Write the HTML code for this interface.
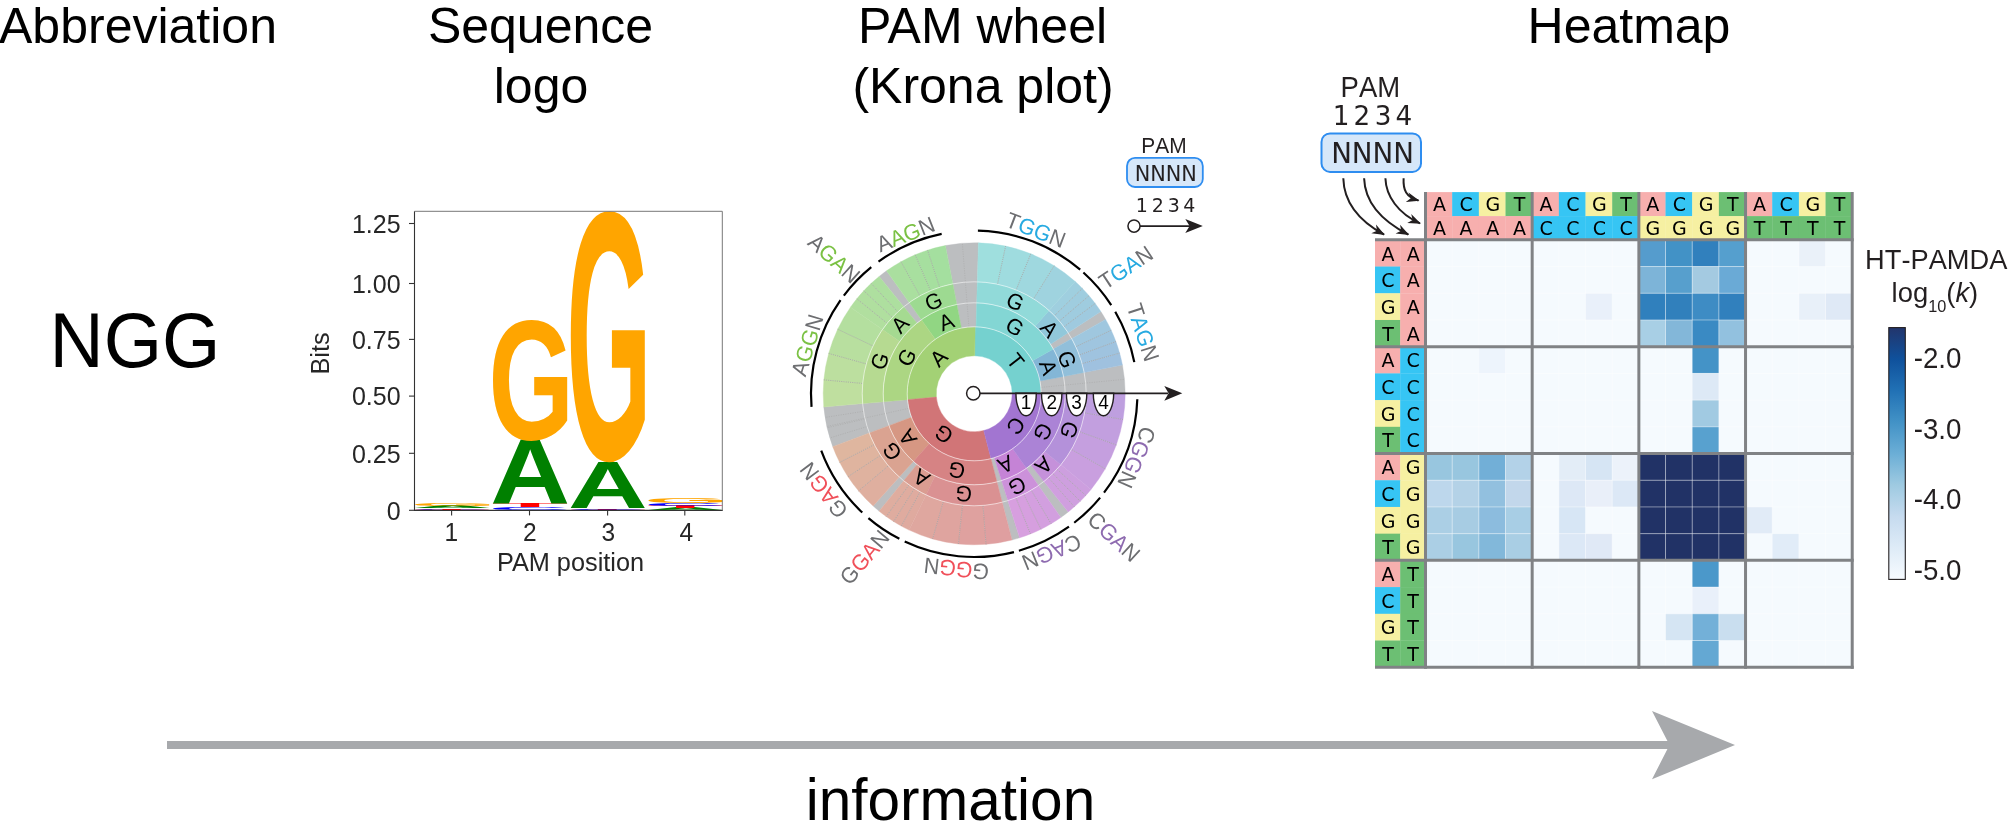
<!DOCTYPE html>
<html><head><meta charset="utf-8"><title>PAM representations</title>
<style>html,body{margin:0;padding:0;background:#fff;overflow:hidden}svg{display:block;will-change:transform}text{white-space:pre}</style></head>
<body><svg width="2008" height="839" viewBox="0 0 2008 839">
<text x="138.00" y="43.20" font-size="50" text-anchor="middle" fill="#000" font-family='"Liberation Sans", Arial, Helvetica, sans-serif' >Abbreviation</text>
<text x="540.50" y="43.20" font-size="50" text-anchor="middle" fill="#000" font-family='"Liberation Sans", Arial, Helvetica, sans-serif' >Sequence</text>
<text x="541.00" y="103.20" font-size="50" text-anchor="middle" fill="#000" font-family='"Liberation Sans", Arial, Helvetica, sans-serif' >logo</text>
<text x="982.50" y="43.20" font-size="50" text-anchor="middle" fill="#000" font-family='"Liberation Sans", Arial, Helvetica, sans-serif' >PAM wheel</text>
<text x="983.00" y="103.20" font-size="50" text-anchor="middle" fill="#000" font-family='"Liberation Sans", Arial, Helvetica, sans-serif' >(Krona plot)</text>
<text x="1629.00" y="43.20" font-size="50" text-anchor="middle" fill="#000" font-family='"Liberation Sans", Arial, Helvetica, sans-serif' >Heatmap</text>
<text transform="translate(135.00,367.00) scale(1,1.04)" x="0" y="0" font-size="75" text-anchor="middle" fill="#000" font-family='"Liberation Sans", Arial, Helvetica, sans-serif' >NGG</text>
<text x="950.50" y="820.20" font-size="58.5" text-anchor="middle" fill="#000" font-family='"Liberation Sans", Arial, Helvetica, sans-serif' >information</text>
<rect x="167" y="741" width="1510" height="8" fill="#a7a9ac"/>
<polygon points="1652,711 1735,745 1652,779.3 1669.5,745" fill="#a7a9ac"/>
<text transform="translate(410.239,510.289) scale(1.13642,0.01130)" x="0" y="0" font-size="100" font-weight="bold" fill="#0000ff" font-family='"Liberation Sans", Arial, Helvetica, sans-serif'>C</text>
<text transform="translate(413.483,509.500) scale(1.26174,0.02180)" x="0" y="0" font-size="100" font-weight="bold" fill="#ff0000" font-family='"Liberation Sans", Arial, Helvetica, sans-serif'>T</text>
<text transform="translate(412.142,508.000) scale(1.10747,0.03198)" x="0" y="0" font-size="100" font-weight="bold" fill="#008000" font-family='"Liberation Sans", Arial, Helvetica, sans-serif'>A</text>
<text transform="translate(410.384,505.761) scale(1.10106,0.03955)" x="0" y="0" font-size="100" font-weight="bold" fill="#ffa500" font-family='"Liberation Sans", Arial, Helvetica, sans-serif'>G</text>
<text transform="translate(488.245,510.259) scale(1.13489,0.04237)" x="0" y="0" font-size="100" font-weight="bold" fill="#0000ff" font-family='"Liberation Sans", Arial, Helvetica, sans-serif'>C</text>
<text transform="translate(491.485,507.300) scale(1.26005,0.05669)" x="0" y="0" font-size="100" font-weight="bold" fill="#ff0000" font-family='"Liberation Sans", Arial, Helvetica, sans-serif'>T</text>
<text transform="translate(490.146,503.400) scale(1.10598,0.91862)" x="0" y="0" font-size="100" font-weight="bold" fill="#008000" font-family='"Liberation Sans", Arial, Helvetica, sans-serif'>A</text>
<text transform="translate(488.390,438.534) scale(1.09958,1.70620)" x="0" y="0" font-size="100" font-weight="bold" fill="#ffa500" font-family='"Liberation Sans", Arial, Helvetica, sans-serif'>G</text>
<text transform="translate(569.389,510.300) scale(1.25665,0.01017)" x="0" y="0" font-size="100" font-weight="bold" fill="#ff0000" font-family='"Liberation Sans", Arial, Helvetica, sans-serif'>T</text>
<text transform="translate(566.158,509.578) scale(1.13183,0.02260)" x="0" y="0" font-size="100" font-weight="bold" fill="#0000ff" font-family='"Liberation Sans", Arial, Helvetica, sans-serif'>C</text>
<text transform="translate(568.053,508.000) scale(1.10300,0.66571)" x="0" y="0" font-size="100" font-weight="bold" fill="#008000" font-family='"Liberation Sans", Arial, Helvetica, sans-serif'>A</text>
<text transform="translate(566.302,458.738) scale(1.09661,3.54516)" x="0" y="0" font-size="100" font-weight="bold" fill="#ffa500" font-family='"Liberation Sans", Arial, Helvetica, sans-serif'>G</text>
<text transform="translate(645.657,510.300) scale(1.10151,0.03052)" x="0" y="0" font-size="100" font-weight="bold" fill="#008000" font-family='"Liberation Sans", Arial, Helvetica, sans-serif'>A</text>
<text transform="translate(646.991,508.200) scale(1.25495,0.03634)" x="0" y="0" font-size="100" font-weight="bold" fill="#ff0000" font-family='"Liberation Sans", Arial, Helvetica, sans-serif'>T</text>
<text transform="translate(643.764,505.667) scale(1.13030,0.03390)" x="0" y="0" font-size="100" font-weight="bold" fill="#0000ff" font-family='"Liberation Sans", Arial, Helvetica, sans-serif'>C</text>
<text transform="translate(643.908,503.235) scale(1.09513,0.06638)" x="0" y="0" font-size="100" font-weight="bold" fill="#ffa500" font-family='"Liberation Sans", Arial, Helvetica, sans-serif'>G</text>
<line x1="414.5" y1="211.3" x2="414.5" y2="510.9" stroke="#333" stroke-width="1.1"/>
<line x1="414.0" y1="510.4" x2="722.8" y2="510.4" stroke="#333" stroke-width="1.1"/>
<line x1="414.5" y1="211.3" x2="722.3" y2="211.3" stroke="#777" stroke-width="1"/>
<line x1="722.3" y1="211.3" x2="722.3" y2="510.4" stroke="#777" stroke-width="1"/>
<line x1="409.0" y1="223.5" x2="414.5" y2="223.5" stroke="#333" stroke-width="1.1"/>
<text transform="translate(400.60,232.80) scale(1,1.04)" x="0" y="0" font-size="25" text-anchor="end" fill="#262626" font-family='"Liberation Sans", Arial, Helvetica, sans-serif' >1.25</text>
<line x1="409.0" y1="283.5" x2="414.5" y2="283.5" stroke="#333" stroke-width="1.1"/>
<text transform="translate(400.60,292.80) scale(1,1.04)" x="0" y="0" font-size="25" text-anchor="end" fill="#262626" font-family='"Liberation Sans", Arial, Helvetica, sans-serif' >1.00</text>
<line x1="409.0" y1="339.4" x2="414.5" y2="339.4" stroke="#333" stroke-width="1.1"/>
<text transform="translate(400.60,348.70) scale(1,1.04)" x="0" y="0" font-size="25" text-anchor="end" fill="#262626" font-family='"Liberation Sans", Arial, Helvetica, sans-serif' >0.75</text>
<line x1="409.0" y1="396.1" x2="414.5" y2="396.1" stroke="#333" stroke-width="1.1"/>
<text transform="translate(400.60,405.40) scale(1,1.04)" x="0" y="0" font-size="25" text-anchor="end" fill="#262626" font-family='"Liberation Sans", Arial, Helvetica, sans-serif' >0.50</text>
<line x1="409.0" y1="453.3" x2="414.5" y2="453.3" stroke="#333" stroke-width="1.1"/>
<text transform="translate(400.60,462.60) scale(1,1.04)" x="0" y="0" font-size="25" text-anchor="end" fill="#262626" font-family='"Liberation Sans", Arial, Helvetica, sans-serif' >0.25</text>
<line x1="409.0" y1="510.3" x2="414.5" y2="510.3" stroke="#333" stroke-width="1.1"/>
<text transform="translate(400.60,519.60) scale(1,1.04)" x="0" y="0" font-size="25" text-anchor="end" fill="#262626" font-family='"Liberation Sans", Arial, Helvetica, sans-serif' >0</text>
<line x1="451.6" y1="510.4" x2="451.6" y2="515.4" stroke="#333" stroke-width="1.1"/>
<text transform="translate(451.40,540.70) scale(1,1.04)" x="0" y="0" font-size="24.5" text-anchor="middle" fill="#262626" font-family='"Liberation Sans", Arial, Helvetica, sans-serif' >1</text>
<line x1="529.5" y1="510.4" x2="529.5" y2="515.4" stroke="#333" stroke-width="1.1"/>
<text transform="translate(529.90,540.70) scale(1,1.04)" x="0" y="0" font-size="24.5" text-anchor="middle" fill="#262626" font-family='"Liberation Sans", Arial, Helvetica, sans-serif' >2</text>
<line x1="607.6" y1="510.4" x2="607.6" y2="515.4" stroke="#333" stroke-width="1.1"/>
<text transform="translate(608.30,540.70) scale(1,1.04)" x="0" y="0" font-size="24.5" text-anchor="middle" fill="#262626" font-family='"Liberation Sans", Arial, Helvetica, sans-serif' >3</text>
<line x1="684.8" y1="510.4" x2="684.8" y2="515.4" stroke="#333" stroke-width="1.1"/>
<text transform="translate(686.40,540.70) scale(1,1.04)" x="0" y="0" font-size="24.5" text-anchor="middle" fill="#262626" font-family='"Liberation Sans", Arial, Helvetica, sans-serif' >4</text>
<text x="570.50" y="571.00" font-size="25.3" text-anchor="middle" fill="#262626" font-family='"Liberation Sans", Arial, Helvetica, sans-serif' >PAM position</text>
<text transform="translate(329.3,353.5) rotate(-90)" font-size="25.3" text-anchor="middle" fill="#262626" font-family='"Liberation Sans", Arial, Helvetica, sans-serif'>Bits</text>
<path d="M1041.20,393.80 A67,67 0 0 0 975.14,326.81 L974.73,355.80 A38,38 0 0 1 1012.20,393.80 Z" fill="#75d1cf" stroke="#75d1cf" stroke-width="0.4"/>
<path d="M975.14,326.81 A67,67 0 0 0 907.45,399.64 L936.34,397.11 A38,38 0 0 1 974.73,355.80 Z" fill="#a3d175" stroke="#a3d175" stroke-width="0.4"/>
<path d="M907.45,399.64 A67,67 0 0 0 990.98,458.67 L983.71,430.59 A38,38 0 0 1 936.34,397.11 Z" fill="#d17577" stroke="#d17577" stroke-width="0.4"/>
<path d="M990.98,458.67 A67,67 0 0 0 1041.20,393.80 L1012.20,393.80 A38,38 0 0 1 983.71,430.59 Z" fill="#a275d1" stroke="#a275d1" stroke-width="0.4"/>
<path d="M1125.20,393.80 A151,151 0 0 0 1122.43,364.99 L1039.97,381.02 A67,67 0 0 1 1041.20,393.80 Z" fill="#bcbec0" stroke="#bcbec0" stroke-width="0.4"/>
<path d="M978.42,242.86 A151,151 0 0 0 945.39,245.57 L961.42,328.03 A67,67 0 0 1 976.07,326.83 Z" fill="#bcbec0" stroke="#bcbec0" stroke-width="0.4"/>
<path d="M823.77,406.96 A151,151 0 0 0 832.76,446.68 L911.44,417.26 A67,67 0 0 1 907.45,399.64 Z" fill="#bcbec0" stroke="#bcbec0" stroke-width="0.4"/>
<path d="M1012.01,539.99 A151,151 0 0 0 1019.61,537.81 L994.35,457.70 A67,67 0 0 1 990.98,458.67 Z" fill="#bcbec0" stroke="#bcbec0" stroke-width="0.4"/>
<path d="M1063.53,376.44 A91,91 0 0 0 1053.40,348.99 L1032.51,360.81 A67,67 0 0 1 1039.97,381.02 Z" fill="#83b6d6" stroke="#83b6d6" stroke-width="0.4"/>
<path d="M1053.40,348.99 A91,91 0 0 0 976.74,302.84 L976.07,326.83 A67,67 0 0 1 1032.51,360.81 Z" fill="#83d6d4" stroke="#83d6d4" stroke-width="0.4"/>
<path d="M956.84,304.47 A91,91 0 0 0 921.36,319.72 L935.29,339.25 A67,67 0 0 1 961.42,328.03 Z" fill="#91d683" stroke="#91d683" stroke-width="0.4"/>
<path d="M921.36,319.72 A91,91 0 0 0 883.55,401.73 L907.45,399.64 A67,67 0 0 1 935.29,339.25 Z" fill="#acd683" stroke="#acd683" stroke-width="0.4"/>
<path d="M888.96,425.67 A91,91 0 0 0 913.31,461.43 L929.37,443.59 A67,67 0 0 1 911.44,417.26 Z" fill="#d69783" stroke="#d69783" stroke-width="0.4"/>
<path d="M913.31,461.43 A91,91 0 0 0 996.98,481.90 L990.98,458.67 A67,67 0 0 1 929.37,443.59 Z" fill="#d68384" stroke="#d68384" stroke-width="0.4"/>
<path d="M1001.56,480.59 A91,91 0 0 0 1026.40,468.34 L1012.63,448.68 A67,67 0 0 1 994.35,457.70 Z" fill="#c583d6" stroke="#c583d6" stroke-width="0.4"/>
<path d="M1026.40,468.34 A91,91 0 0 0 1065.20,393.80 L1041.20,393.80 A67,67 0 0 1 1012.63,448.68 Z" fill="#ab83d6" stroke="#ab83d6" stroke-width="0.4"/>
<path d="M1105.62,319.44 A151,151 0 0 0 1100.84,311.56 L1050.52,344.24 A91,91 0 0 1 1053.40,348.99 Z" fill="#bcbec0" stroke="#bcbec0" stroke-width="0.4"/>
<path d="M886.51,270.87 A151,151 0 0 0 879.17,276.45 L916.93,323.08 A91,91 0 0 1 921.36,319.72 Z" fill="#bcbec0" stroke="#bcbec0" stroke-width="0.4"/>
<path d="M873.16,506.01 A151,151 0 0 0 879.17,511.15 L916.93,464.52 A91,91 0 0 1 913.31,461.43 Z" fill="#bcbec0" stroke="#bcbec0" stroke-width="0.4"/>
<path d="M1060.81,517.49 A151,151 0 0 0 1068.20,511.97 L1030.85,465.02 A91,91 0 0 1 1026.40,468.34 Z" fill="#bcbec0" stroke="#bcbec0" stroke-width="0.4"/>
<path d="M1084.14,372.43 A112,112 0 0 0 1071.68,338.65 L1053.40,348.99 A91,91 0 0 1 1063.53,376.44 Z" fill="#91bfda" stroke="#91bfda" stroke-width="0.4"/>
<path d="M1122.43,364.99 A151,151 0 0 0 1119.62,353.13 L1082.06,363.63 A112,112 0 0 1 1084.14,372.43 Z" fill="#9fc1df" stroke="#9fc1df" stroke-width="0.4"/>
<path d="M1119.62,353.13 A151,151 0 0 0 1115.87,341.54 L1079.28,355.03 A112,112 0 0 1 1082.06,363.63 Z" fill="#9fc3df" stroke="#9fc3df" stroke-width="0.4"/>
<path d="M1115.87,341.54 A151,151 0 0 0 1111.19,330.28 L1075.81,346.69 A112,112 0 0 1 1079.28,355.03 Z" fill="#9fc5df" stroke="#9fc5df" stroke-width="0.4"/>
<path d="M1111.19,330.28 A151,151 0 0 0 1105.62,319.44 L1071.68,338.65 A112,112 0 0 1 1075.81,346.69 Z" fill="#9fc7df" stroke="#9fc7df" stroke-width="0.4"/>
<path d="M1068.13,332.80 A112,112 0 0 0 1049.14,310.57 L1035.09,326.17 A91,91 0 0 1 1050.52,344.24 Z" fill="#91c8da" stroke="#91c8da" stroke-width="0.4"/>
<path d="M1100.84,311.56 A151,151 0 0 0 1095.19,303.45 L1063.94,326.79 A112,112 0 0 1 1068.13,332.80 Z" fill="#9fcadf" stroke="#9fcadf" stroke-width="0.4"/>
<path d="M1095.19,303.45 A151,151 0 0 0 1089.02,295.73 L1059.37,321.06 A112,112 0 0 1 1063.94,326.79 Z" fill="#9fccdf" stroke="#9fccdf" stroke-width="0.4"/>
<path d="M1089.02,295.73 A151,151 0 0 0 1082.36,288.43 L1054.43,315.65 A112,112 0 0 1 1059.37,321.06 Z" fill="#9fcddf" stroke="#9fcddf" stroke-width="0.4"/>
<path d="M1082.36,288.43 A151,151 0 0 0 1075.24,281.59 L1049.14,310.57 A112,112 0 0 1 1054.43,315.65 Z" fill="#9fcfdf" stroke="#9fcfdf" stroke-width="0.4"/>
<path d="M1049.14,310.57 A112,112 0 0 0 977.33,281.84 L976.74,302.84 A91,91 0 0 1 1035.09,326.17 Z" fill="#91dad9" stroke="#91dad9" stroke-width="0.4"/>
<path d="M1075.24,281.59 A151,151 0 0 0 1054.22,265.74 L1033.55,298.82 A112,112 0 0 1 1049.14,310.57 Z" fill="#9fd3df" stroke="#9fd3df" stroke-width="0.4"/>
<path d="M1054.22,265.74 A151,151 0 0 0 1030.77,253.80 L1016.16,289.96 A112,112 0 0 1 1033.55,298.82 Z" fill="#9fd8df" stroke="#9fd8df" stroke-width="0.4"/>
<path d="M1030.77,253.80 A151,151 0 0 0 1005.59,246.10 L997.49,284.25 A112,112 0 0 1 1016.16,289.96 Z" fill="#9fdcdf" stroke="#9fdcdf" stroke-width="0.4"/>
<path d="M1005.59,246.10 A151,151 0 0 0 978.42,242.86 L977.33,281.84 A112,112 0 0 1 997.49,284.25 Z" fill="#9fdfde" stroke="#9fdfde" stroke-width="0.4"/>
<path d="M952.83,283.86 A112,112 0 0 0 909.16,302.62 L921.36,319.72 A91,91 0 0 1 956.84,304.47 Z" fill="#9dda91" stroke="#9dda91" stroke-width="0.4"/>
<path d="M945.39,245.57 A151,151 0 0 0 927.54,250.19 L939.59,287.28 A112,112 0 0 1 952.83,283.86 Z" fill="#a4df9f" stroke="#a4df9f" stroke-width="0.4"/>
<path d="M927.54,250.19 A151,151 0 0 0 915.20,254.80 L930.44,290.70 A112,112 0 0 1 939.59,287.28 Z" fill="#a6df9f" stroke="#a6df9f" stroke-width="0.4"/>
<path d="M915.20,254.80 A151,151 0 0 0 900.99,261.73 L919.90,295.84 A112,112 0 0 1 930.44,290.70 Z" fill="#a8df9f" stroke="#a8df9f" stroke-width="0.4"/>
<path d="M900.99,261.73 A151,151 0 0 0 886.51,270.87 L909.16,302.62 A112,112 0 0 1 919.90,295.84 Z" fill="#aadf9f" stroke="#aadf9f" stroke-width="0.4"/>
<path d="M903.72,306.76 A112,112 0 0 0 882.45,329.56 L899.66,341.60 A91,91 0 0 1 916.93,323.08 Z" fill="#a5da91" stroke="#a5da91" stroke-width="0.4"/>
<path d="M879.17,276.45 A151,151 0 0 0 871.22,283.37 L897.82,311.89 A112,112 0 0 1 903.72,306.76 Z" fill="#addf9f" stroke="#addf9f" stroke-width="0.4"/>
<path d="M871.22,283.37 A151,151 0 0 0 863.77,290.82 L892.29,317.42 A112,112 0 0 1 897.82,311.89 Z" fill="#aedf9f" stroke="#aedf9f" stroke-width="0.4"/>
<path d="M863.77,290.82 A151,151 0 0 0 856.85,298.77 L887.16,323.32 A112,112 0 0 1 892.29,317.42 Z" fill="#b0df9f" stroke="#b0df9f" stroke-width="0.4"/>
<path d="M856.85,298.77 A151,151 0 0 0 850.51,307.19 L882.45,329.56 A112,112 0 0 1 887.16,323.32 Z" fill="#b1df9f" stroke="#b1df9f" stroke-width="0.4"/>
<path d="M882.45,329.56 A112,112 0 0 0 862.63,403.56 L883.55,401.73 A91,91 0 0 1 899.66,341.60 Z" fill="#b6da91" stroke="#b6da91" stroke-width="0.4"/>
<path d="M850.51,307.19 A151,151 0 0 0 837.68,329.27 L872.94,345.94 A112,112 0 0 1 882.45,329.56 Z" fill="#b4df9f" stroke="#b4df9f" stroke-width="0.4"/>
<path d="M837.68,329.27 A151,151 0 0 0 828.69,353.45 L866.27,363.87 A112,112 0 0 1 872.94,345.94 Z" fill="#b8df9f" stroke="#b8df9f" stroke-width="0.4"/>
<path d="M828.69,353.45 A151,151 0 0 0 823.85,379.85 L862.68,383.45 A112,112 0 0 1 866.27,363.87 Z" fill="#bcdf9f" stroke="#bcdf9f" stroke-width="0.4"/>
<path d="M823.85,379.85 A151,151 0 0 0 823.77,406.96 L862.63,403.56 A112,112 0 0 1 862.68,383.45 Z" fill="#bfdf9f" stroke="#bfdf9f" stroke-width="0.4"/>
<path d="M869.29,433.02 A112,112 0 0 0 899.26,477.03 L913.31,461.43 A91,91 0 0 1 888.96,425.67 Z" fill="#daa391" stroke="#daa391" stroke-width="0.4"/>
<path d="M832.76,446.68 A151,151 0 0 0 839.66,462.35 L874.41,444.65 A112,112 0 0 1 869.29,433.02 Z" fill="#dfb69f" stroke="#dfb69f" stroke-width="0.4"/>
<path d="M839.66,462.35 A151,151 0 0 0 847.99,476.70 L880.59,455.29 A112,112 0 0 1 874.41,444.65 Z" fill="#dfb49f" stroke="#dfb49f" stroke-width="0.4"/>
<path d="M847.99,476.70 A151,151 0 0 0 858.53,490.86 L888.40,465.79 A112,112 0 0 1 880.59,455.29 Z" fill="#dfb29f" stroke="#dfb29f" stroke-width="0.4"/>
<path d="M858.53,490.86 A151,151 0 0 0 873.16,506.01 L899.26,477.03 A112,112 0 0 1 888.40,465.79 Z" fill="#dfaf9f" stroke="#dfaf9f" stroke-width="0.4"/>
<path d="M903.72,480.84 A112,112 0 0 0 925.98,494.89 L935.02,475.94 A91,91 0 0 1 916.93,464.52 Z" fill="#da9d91" stroke="#da9d91" stroke-width="0.4"/>
<path d="M879.17,511.15 A151,151 0 0 0 886.25,516.54 L908.96,484.84 A112,112 0 0 1 903.72,480.84 Z" fill="#dfad9f" stroke="#dfad9f" stroke-width="0.4"/>
<path d="M886.25,516.54 A151,151 0 0 0 893.62,521.50 L914.44,488.52 A112,112 0 0 1 908.96,484.84 Z" fill="#dfac9f" stroke="#dfac9f" stroke-width="0.4"/>
<path d="M893.62,521.50 A151,151 0 0 0 901.28,526.03 L920.12,491.88 A112,112 0 0 1 914.44,488.52 Z" fill="#dfab9f" stroke="#dfab9f" stroke-width="0.4"/>
<path d="M901.28,526.03 A151,151 0 0 0 909.19,530.09 L925.98,494.89 A112,112 0 0 1 920.12,491.88 Z" fill="#dfaa9f" stroke="#dfaa9f" stroke-width="0.4"/>
<path d="M925.98,494.89 A112,112 0 0 0 1002.24,502.23 L996.98,481.90 A91,91 0 0 1 935.02,475.94 Z" fill="#da9192" stroke="#da9192" stroke-width="0.4"/>
<path d="M909.19,530.09 A151,151 0 0 0 932.58,538.95 L943.33,501.46 A112,112 0 0 1 925.98,494.89 Z" fill="#dfa79f" stroke="#dfa79f" stroke-width="0.4"/>
<path d="M932.58,538.95 A151,151 0 0 0 958.42,543.97 L962.49,505.19 A112,112 0 0 1 943.33,501.46 Z" fill="#dfa49f" stroke="#dfa49f" stroke-width="0.4"/>
<path d="M958.42,543.97 A151,151 0 0 0 986.05,544.33 L982.99,505.45 A112,112 0 0 1 962.49,505.19 Z" fill="#dfa19f" stroke="#dfa19f" stroke-width="0.4"/>
<path d="M986.05,544.33 A151,151 0 0 0 1012.01,539.99 L1002.24,502.23 A112,112 0 0 1 982.99,505.45 Z" fill="#df9fa0" stroke="#df9fa0" stroke-width="0.4"/>
<path d="M1007.88,500.62 A112,112 0 0 0 1038.44,485.55 L1026.40,468.34 A91,91 0 0 1 1001.56,480.59 Z" fill="#cc91da" stroke="#cc91da" stroke-width="0.4"/>
<path d="M1019.61,537.81 A151,151 0 0 0 1030.46,533.93 L1015.93,497.74 A112,112 0 0 1 1007.88,500.62 Z" fill="#d79fdf" stroke="#d79fdf" stroke-width="0.4"/>
<path d="M1030.46,533.93 A151,151 0 0 0 1040.99,529.23 L1023.74,494.25 A112,112 0 0 1 1015.93,497.74 Z" fill="#d69fdf" stroke="#d69fdf" stroke-width="0.4"/>
<path d="M1040.99,529.23 A151,151 0 0 0 1051.12,523.74 L1031.25,490.18 A112,112 0 0 1 1023.74,494.25 Z" fill="#d49fdf" stroke="#d49fdf" stroke-width="0.4"/>
<path d="M1051.12,523.74 A151,151 0 0 0 1060.81,517.49 L1038.44,485.55 A112,112 0 0 1 1031.25,490.18 Z" fill="#d29fdf" stroke="#d29fdf" stroke-width="0.4"/>
<path d="M1043.92,481.45 A112,112 0 0 0 1060.87,464.74 L1044.62,451.44 A91,91 0 0 1 1030.85,465.02 Z" fill="#c591da" stroke="#c591da" stroke-width="0.4"/>
<path d="M1068.20,511.97 A151,151 0 0 0 1074.35,506.80 L1048.49,477.62 A112,112 0 0 1 1043.92,481.45 Z" fill="#d09fdf" stroke="#d09fdf" stroke-width="0.4"/>
<path d="M1074.35,506.80 A151,151 0 0 0 1080.23,501.32 L1052.84,473.55 A112,112 0 0 1 1048.49,477.62 Z" fill="#cf9fdf" stroke="#cf9fdf" stroke-width="0.4"/>
<path d="M1080.23,501.32 A151,151 0 0 0 1085.80,495.52 L1056.97,469.25 A112,112 0 0 1 1052.84,473.55 Z" fill="#ce9fdf" stroke="#ce9fdf" stroke-width="0.4"/>
<path d="M1085.80,495.52 A151,151 0 0 0 1091.05,489.44 L1060.87,464.74 A112,112 0 0 1 1056.97,469.25 Z" fill="#cd9fdf" stroke="#cd9fdf" stroke-width="0.4"/>
<path d="M1060.87,464.74 A112,112 0 0 0 1086.20,393.80 L1065.20,393.80 A91,91 0 0 1 1044.62,451.44 Z" fill="#b491da" stroke="#b491da" stroke-width="0.4"/>
<path d="M1091.05,489.44 A151,151 0 0 0 1105.23,468.84 L1071.39,449.46 A112,112 0 0 1 1060.87,464.74 Z" fill="#c99fdf" stroke="#c99fdf" stroke-width="0.4"/>
<path d="M1105.23,468.84 A151,151 0 0 0 1116.27,444.95 L1079.58,431.74 A112,112 0 0 1 1071.39,449.46 Z" fill="#c59fdf" stroke="#c59fdf" stroke-width="0.4"/>
<path d="M1116.27,444.95 A151,151 0 0 0 1123.00,419.50 L1084.57,412.86 A112,112 0 0 1 1079.58,431.74 Z" fill="#c29fdf" stroke="#c29fdf" stroke-width="0.4"/>
<path d="M1123.00,419.50 A151,151 0 0 0 1125.20,393.80 L1086.20,393.80 A112,112 0 0 1 1084.57,412.86 Z" fill="#be9fdf" stroke="#be9fdf" stroke-width="0.4"/>
<line x1="1082.54" y1="363.50" x2="1119.62" y2="353.13" stroke="#a2a2a2" stroke-width="0.75" stroke-dasharray="1.3,0.9"/>
<line x1="1079.75" y1="354.86" x2="1115.87" y2="341.54" stroke="#a2a2a2" stroke-width="0.75" stroke-dasharray="1.3,0.9"/>
<line x1="1076.26" y1="346.48" x2="1111.19" y2="330.28" stroke="#a2a2a2" stroke-width="0.75" stroke-dasharray="1.3,0.9"/>
<line x1="1064.34" y1="326.49" x2="1095.19" y2="303.45" stroke="#a2a2a2" stroke-width="0.75" stroke-dasharray="1.3,0.9"/>
<line x1="1059.75" y1="320.74" x2="1089.02" y2="295.73" stroke="#a2a2a2" stroke-width="0.75" stroke-dasharray="1.3,0.9"/>
<line x1="1054.78" y1="315.30" x2="1082.36" y2="288.43" stroke="#a2a2a2" stroke-width="0.75" stroke-dasharray="1.3,0.9"/>
<line x1="1033.82" y1="298.39" x2="1054.22" y2="265.74" stroke="#a2a2a2" stroke-width="0.75" stroke-dasharray="1.3,0.9"/>
<line x1="1016.34" y1="289.49" x2="1030.77" y2="253.80" stroke="#a2a2a2" stroke-width="0.75" stroke-dasharray="1.3,0.9"/>
<line x1="997.59" y1="283.76" x2="1005.59" y2="246.10" stroke="#a2a2a2" stroke-width="0.75" stroke-dasharray="1.3,0.9"/>
<line x1="939.44" y1="286.81" x2="927.54" y2="250.19" stroke="#a2a2a2" stroke-width="0.75" stroke-dasharray="1.3,0.9"/>
<line x1="930.24" y1="290.24" x2="915.20" y2="254.80" stroke="#a2a2a2" stroke-width="0.75" stroke-dasharray="1.3,0.9"/>
<line x1="919.66" y1="295.41" x2="900.99" y2="261.73" stroke="#a2a2a2" stroke-width="0.75" stroke-dasharray="1.3,0.9"/>
<line x1="897.48" y1="311.52" x2="871.22" y2="283.37" stroke="#a2a2a2" stroke-width="0.75" stroke-dasharray="1.3,0.9"/>
<line x1="891.92" y1="317.08" x2="863.77" y2="290.82" stroke="#a2a2a2" stroke-width="0.75" stroke-dasharray="1.3,0.9"/>
<line x1="886.77" y1="323.00" x2="856.85" y2="298.77" stroke="#a2a2a2" stroke-width="0.75" stroke-dasharray="1.3,0.9"/>
<line x1="872.49" y1="345.72" x2="837.68" y2="329.27" stroke="#a2a2a2" stroke-width="0.75" stroke-dasharray="1.3,0.9"/>
<line x1="865.79" y1="363.74" x2="828.69" y2="353.45" stroke="#a2a2a2" stroke-width="0.75" stroke-dasharray="1.3,0.9"/>
<line x1="862.18" y1="383.41" x2="823.85" y2="379.85" stroke="#a2a2a2" stroke-width="0.75" stroke-dasharray="1.3,0.9"/>
<line x1="873.96" y1="444.87" x2="839.66" y2="462.35" stroke="#a2a2a2" stroke-width="0.75" stroke-dasharray="1.3,0.9"/>
<line x1="880.17" y1="455.57" x2="847.99" y2="476.70" stroke="#a2a2a2" stroke-width="0.75" stroke-dasharray="1.3,0.9"/>
<line x1="888.02" y1="466.11" x2="858.53" y2="490.86" stroke="#a2a2a2" stroke-width="0.75" stroke-dasharray="1.3,0.9"/>
<line x1="908.67" y1="485.25" x2="886.25" y2="516.54" stroke="#a2a2a2" stroke-width="0.75" stroke-dasharray="1.3,0.9"/>
<line x1="914.17" y1="488.94" x2="893.62" y2="521.50" stroke="#a2a2a2" stroke-width="0.75" stroke-dasharray="1.3,0.9"/>
<line x1="919.87" y1="492.31" x2="901.28" y2="526.03" stroke="#a2a2a2" stroke-width="0.75" stroke-dasharray="1.3,0.9"/>
<line x1="943.19" y1="501.94" x2="932.58" y2="538.95" stroke="#a2a2a2" stroke-width="0.75" stroke-dasharray="1.3,0.9"/>
<line x1="962.44" y1="505.68" x2="958.42" y2="543.97" stroke="#a2a2a2" stroke-width="0.75" stroke-dasharray="1.3,0.9"/>
<line x1="983.03" y1="505.95" x2="986.05" y2="544.33" stroke="#a2a2a2" stroke-width="0.75" stroke-dasharray="1.3,0.9"/>
<line x1="1016.12" y1="498.20" x2="1030.46" y2="533.93" stroke="#a2a2a2" stroke-width="0.75" stroke-dasharray="1.3,0.9"/>
<line x1="1023.96" y1="494.70" x2="1040.99" y2="529.23" stroke="#a2a2a2" stroke-width="0.75" stroke-dasharray="1.3,0.9"/>
<line x1="1031.51" y1="490.61" x2="1051.12" y2="523.74" stroke="#a2a2a2" stroke-width="0.75" stroke-dasharray="1.3,0.9"/>
<line x1="1048.82" y1="477.99" x2="1074.35" y2="506.80" stroke="#a2a2a2" stroke-width="0.75" stroke-dasharray="1.3,0.9"/>
<line x1="1053.19" y1="473.90" x2="1080.23" y2="501.32" stroke="#a2a2a2" stroke-width="0.75" stroke-dasharray="1.3,0.9"/>
<line x1="1057.34" y1="469.59" x2="1085.80" y2="495.52" stroke="#a2a2a2" stroke-width="0.75" stroke-dasharray="1.3,0.9"/>
<line x1="1071.82" y1="449.71" x2="1105.23" y2="468.84" stroke="#a2a2a2" stroke-width="0.75" stroke-dasharray="1.3,0.9"/>
<line x1="1080.05" y1="431.91" x2="1116.27" y2="444.95" stroke="#a2a2a2" stroke-width="0.75" stroke-dasharray="1.3,0.9"/>
<line x1="1085.06" y1="412.95" x2="1123.00" y2="419.50" stroke="#a2a2a2" stroke-width="0.75" stroke-dasharray="1.3,0.9"/>
<line x1="863.09" y1="411.40" x2="825.06" y2="417.42" stroke="#a8a8a8" stroke-width="0.6" stroke-dasharray="1.2,1.2"/>
<line x1="864.58" y1="419.11" x2="827.07" y2="427.77" stroke="#a8a8a8" stroke-width="0.6" stroke-dasharray="1.2,1.2"/>
<line x1="866.62" y1="426.69" x2="829.80" y2="437.95" stroke="#a8a8a8" stroke-width="0.6" stroke-dasharray="1.2,1.2"/>
<line x1="1041.39" y1="387.33" x2="1124.50" y2="379.33" stroke="#a9a9a9" stroke-width="0.6" stroke-dasharray="1.2,1.2"/>
<line x1="968.90" y1="326.51" x2="962.35" y2="243.27" stroke="#a9a9a9" stroke-width="0.6" stroke-dasharray="1.2,1.2"/>
<line x1="908.30" y1="408.41" x2="826.78" y2="426.48" stroke="#a9a9a9" stroke-width="0.6" stroke-dasharray="1.2,1.2"/>
<circle cx="974.2" cy="393.8" r="67" fill="none" stroke="#fff" stroke-opacity="0.7" stroke-width="0.8"/>
<circle cx="974.2" cy="393.8" r="91" fill="none" stroke="#fff" stroke-opacity="0.7" stroke-width="0.8"/>
<circle cx="974.2" cy="393.8" r="112" fill="none" stroke="#fff" stroke-opacity="0.7" stroke-width="0.8"/>
<text transform="translate(1015.44,360.99) rotate(51.5) scale(1,1.04)" x="0" y="7.3" font-size="21.3" text-anchor="middle" fill="#000" font-family='"Liberation Sans", Arial, Helvetica, sans-serif'>T</text>
<text transform="translate(938.62,357.97) rotate(-44.8) scale(1,1.04)" x="0" y="7.3" font-size="21.3" text-anchor="middle" fill="#000" font-family='"Liberation Sans", Arial, Helvetica, sans-serif'>A</text>
<text transform="translate(943.74,434.08) rotate(-142.9) scale(1,1.04)" x="0" y="7.3" font-size="21.3" text-anchor="middle" fill="#000" font-family='"Liberation Sans", Arial, Helvetica, sans-serif'>G</text>
<text transform="translate(1015.93,425.82) rotate(-232.5) scale(1,1.04)" x="0" y="7.3" font-size="21.3" text-anchor="middle" fill="#000" font-family='"Liberation Sans", Arial, Helvetica, sans-serif'>C</text>
<text transform="translate(1048.29,367.27) rotate(70.3) scale(1,1.04)" x="0" y="7.3" font-size="21.3" text-anchor="middle" fill="#000" font-family='"Liberation Sans", Arial, Helvetica, sans-serif'>A</text>
<text transform="translate(1014.88,326.90) rotate(31.3) scale(1,1.04)" x="0" y="7.3" font-size="21.3" text-anchor="middle" fill="#000" font-family='"Liberation Sans", Arial, Helvetica, sans-serif'>G</text>
<text transform="translate(946.48,321.96) rotate(-21.1) scale(1,1.04)" x="0" y="7.3" font-size="21.3" text-anchor="middle" fill="#000" font-family='"Liberation Sans", Arial, Helvetica, sans-serif'>A</text>
<text transform="translate(906.88,357.25) rotate(-61.5) scale(1,1.04)" x="0" y="7.3" font-size="21.3" text-anchor="middle" fill="#000" font-family='"Liberation Sans", Arial, Helvetica, sans-serif'>G</text>
<text transform="translate(907.75,437.62) rotate(-123.4) scale(1,1.04)" x="0" y="7.3" font-size="21.3" text-anchor="middle" fill="#000" font-family='"Liberation Sans", Arial, Helvetica, sans-serif'>A</text>
<text transform="translate(956.85,470.15) rotate(-167.2) scale(1,1.04)" x="0" y="7.3" font-size="21.3" text-anchor="middle" fill="#000" font-family='"Liberation Sans", Arial, Helvetica, sans-serif'>G</text>
<text transform="translate(1005.64,464.42) rotate(-204.0) scale(1,1.04)" x="0" y="7.3" font-size="21.3" text-anchor="middle" fill="#000" font-family='"Liberation Sans", Arial, Helvetica, sans-serif'>A</text>
<text transform="translate(1042.86,431.86) rotate(-241.0) scale(1,1.04)" x="0" y="7.3" font-size="21.3" text-anchor="middle" fill="#000" font-family='"Liberation Sans", Arial, Helvetica, sans-serif'>G</text>
<text transform="translate(1066.96,359.49) rotate(69.7) scale(1,1.04)" x="0" y="7.3" font-size="21.3" text-anchor="middle" fill="#000" font-family='"Liberation Sans", Arial, Helvetica, sans-serif'>G</text>
<text transform="translate(1049.37,328.92) rotate(49.2) scale(1,1.04)" x="0" y="7.3" font-size="21.3" text-anchor="middle" fill="#000" font-family='"Liberation Sans", Arial, Helvetica, sans-serif'>A</text>
<text transform="translate(1015.24,301.62) rotate(24.0) scale(1,1.04)" x="0" y="7.3" font-size="21.3" text-anchor="middle" fill="#000" font-family='"Liberation Sans", Arial, Helvetica, sans-serif'>G</text>
<text transform="translate(933.64,301.41) rotate(-23.7) scale(1,1.04)" x="0" y="7.3" font-size="21.3" text-anchor="middle" fill="#000" font-family='"Liberation Sans", Arial, Helvetica, sans-serif'>G</text>
<text transform="translate(900.09,324.45) rotate(-46.9) scale(1,1.04)" x="0" y="7.3" font-size="21.3" text-anchor="middle" fill="#000" font-family='"Liberation Sans", Arial, Helvetica, sans-serif'>A</text>
<text transform="translate(879.65,361.24) rotate(-71.0) scale(1,1.04)" x="0" y="7.3" font-size="21.3" text-anchor="middle" fill="#000" font-family='"Liberation Sans", Arial, Helvetica, sans-serif'>G</text>
<text transform="translate(892.04,451.33) rotate(-125.0) scale(1,1.04)" x="0" y="7.3" font-size="21.3" text-anchor="middle" fill="#000" font-family='"Liberation Sans", Arial, Helvetica, sans-serif'>G</text>
<text transform="translate(921.43,477.92) rotate(-147.9) scale(1,1.04)" x="0" y="7.3" font-size="21.3" text-anchor="middle" fill="#000" font-family='"Liberation Sans", Arial, Helvetica, sans-serif'>A</text>
<text transform="translate(963.69,493.75) rotate(-174.0) scale(1,1.04)" x="0" y="7.3" font-size="21.3" text-anchor="middle" fill="#000" font-family='"Liberation Sans", Arial, Helvetica, sans-serif'>G</text>
<text transform="translate(1017.34,485.90) rotate(-205.1) scale(1,1.04)" x="0" y="7.3" font-size="21.3" text-anchor="middle" fill="#000" font-family='"Liberation Sans", Arial, Helvetica, sans-serif'>G</text>
<text transform="translate(1043.83,465.15) rotate(-224.3) scale(1,1.04)" x="0" y="7.3" font-size="21.3" text-anchor="middle" fill="#000" font-family='"Liberation Sans", Arial, Helvetica, sans-serif'>A</text>
<text transform="translate(1069.08,429.84) rotate(-249.2) scale(1,1.04)" x="0" y="7.3" font-size="21.3" text-anchor="middle" fill="#000" font-family='"Liberation Sans", Arial, Helvetica, sans-serif'>G</text>
<path d="M1134.29,362.10 A163.2,163.2 0 0 0 1115.25,311.71" fill="none" stroke="#000" stroke-width="2.2"/>
<path d="M1111.23,305.15 A163.2,163.2 0 0 0 1083.40,272.52" fill="none" stroke="#000" stroke-width="2.2"/>
<path d="M1080.19,269.70 A163.2,163.2 0 0 0 977.90,230.64" fill="none" stroke="#000" stroke-width="2.2"/>
<path d="M941.66,233.88 A163.2,163.2 0 0 0 878.50,261.60" fill="none" stroke="#000" stroke-width="2.2"/>
<path d="M871.27,267.15 A163.2,163.2 0 0 0 843.86,295.58" fill="none" stroke="#000" stroke-width="2.2"/>
<path d="M840.51,300.19 A163.2,163.2 0 0 0 811.53,406.89" fill="none" stroke="#000" stroke-width="2.2"/>
<path d="M821.24,450.69 A163.2,163.2 0 0 0 862.27,512.57" fill="none" stroke="#000" stroke-width="2.2"/>
<path d="M868.43,518.08 A163.2,163.2 0 0 0 899.35,538.82" fill="none" stroke="#000" stroke-width="2.2"/>
<path d="M904.71,541.47 A163.2,163.2 0 0 0 1013.96,552.08" fill="none" stroke="#000" stroke-width="2.2"/>
<path d="M1018.91,550.76 A163.2,163.2 0 0 0 1068.97,526.66" fill="none" stroke="#000" stroke-width="2.2"/>
<path d="M1074.23,522.75 A163.2,163.2 0 0 0 1100.13,497.61" fill="none" stroke="#000" stroke-width="2.2"/>
<path d="M1104.02,492.70 A163.2,163.2 0 0 0 1137.31,399.21" fill="none" stroke="#000" stroke-width="2.2"/>
<text transform="translate(1035.80,230.00) rotate(21.0) scale(1,1.04)" x="0" y="7.4" font-size="21.4" text-anchor="middle" fill="#6d6e71" font-family='"Liberation Sans", Arial, Helvetica, sans-serif'>T<tspan fill="#27aae1">GG</tspan>N</text>
<text transform="translate(1125.90,267.50) rotate(-33.6) scale(1,1.04)" x="0" y="7.4" font-size="21.4" text-anchor="middle" fill="#6d6e71" font-family='"Liberation Sans", Arial, Helvetica, sans-serif'>T<tspan fill="#27aae1">GA</tspan>N</text>
<text transform="translate(1143.10,332.40) rotate(72.0) scale(1,1.04)" x="0" y="7.4" font-size="21.4" text-anchor="middle" fill="#6d6e71" font-family='"Liberation Sans", Arial, Helvetica, sans-serif'>T<tspan fill="#27aae1">AG</tspan>N</text>
<text transform="translate(905.60,234.30) rotate(-21.5) scale(1,1.04)" x="0" y="7.4" font-size="21.4" text-anchor="middle" fill="#6d6e71" font-family='"Liberation Sans", Arial, Helvetica, sans-serif'>A<tspan fill="#7ac143">AG</tspan>N</text>
<text transform="translate(834.10,258.60) rotate(42.0) scale(1,1.04)" x="0" y="7.4" font-size="21.4" text-anchor="middle" fill="#6d6e71" font-family='"Liberation Sans", Arial, Helvetica, sans-serif'>A<tspan fill="#7ac143">GA</tspan>N</text>
<text transform="translate(807.20,345.00) rotate(-73.1) scale(1,1.04)" x="0" y="7.4" font-size="21.4" text-anchor="middle" fill="#6d6e71" font-family='"Liberation Sans", Arial, Helvetica, sans-serif'>A<tspan fill="#7ac143">GG</tspan>N</text>
<text transform="translate(823.80,490.10) rotate(-126.9) scale(1,1.04)" x="0" y="7.4" font-size="21.4" text-anchor="middle" fill="#6d6e71" font-family='"Liberation Sans", Arial, Helvetica, sans-serif'>G<tspan fill="#f0505a">AG</tspan>N</text>
<text transform="translate(864.40,557.30) rotate(-49.8) scale(1,1.04)" x="0" y="7.4" font-size="21.4" text-anchor="middle" fill="#6d6e71" font-family='"Liberation Sans", Arial, Helvetica, sans-serif'>G<tspan fill="#f0505a">GA</tspan>N</text>
<text transform="translate(956.50,568.80) rotate(-173.5) scale(1,1.04)" x="0" y="7.4" font-size="21.4" text-anchor="middle" fill="#6d6e71" font-family='"Liberation Sans", Arial, Helvetica, sans-serif'>G<tspan fill="#f0505a">GG</tspan>N</text>
<text transform="translate(1051.60,552.20) rotate(157.9) scale(1,1.04)" x="0" y="7.4" font-size="21.4" text-anchor="middle" fill="#6d6e71" font-family='"Liberation Sans", Arial, Helvetica, sans-serif'>C<tspan fill="#8e6bb0">AG</tspan>N</text>
<text transform="translate(1113.90,536.70) rotate(42.6) scale(1,1.04)" x="0" y="7.4" font-size="21.4" text-anchor="middle" fill="#6d6e71" font-family='"Liberation Sans", Arial, Helvetica, sans-serif'>C<tspan fill="#8e6bb0">GA</tspan>N</text>
<text transform="translate(1136.80,457.20) rotate(113.4) scale(1,1.04)" x="0" y="7.4" font-size="21.4" text-anchor="middle" fill="#6d6e71" font-family='"Liberation Sans", Arial, Helvetica, sans-serif'>C<tspan fill="#8e6bb0">GG</tspan>N</text>
<path d="M1015.90,393.3 A10.2,22.5 0 0 0 1036.30,393.3 Z" fill="#fff" stroke="#231f20" stroke-width="1.4"/>
<text transform="translate(1026.10,409.40) scale(1,1.04)" x="0" y="0" font-size="19" text-anchor="middle" fill="#000" font-family='"Liberation Sans", Arial, Helvetica, sans-serif' >1</text>
<path d="M1041.50,393.3 A10.2,22.5 0 0 0 1061.90,393.3 Z" fill="#fff" stroke="#231f20" stroke-width="1.4"/>
<text transform="translate(1051.70,409.40) scale(1,1.04)" x="0" y="0" font-size="19" text-anchor="middle" fill="#000" font-family='"Liberation Sans", Arial, Helvetica, sans-serif' >2</text>
<path d="M1066.40,393.3 A10.2,22.5 0 0 0 1086.80,393.3 Z" fill="#fff" stroke="#231f20" stroke-width="1.4"/>
<text transform="translate(1076.60,409.40) scale(1,1.04)" x="0" y="0" font-size="19" text-anchor="middle" fill="#000" font-family='"Liberation Sans", Arial, Helvetica, sans-serif' >3</text>
<path d="M1093.30,393.3 A10.2,22.5 0 0 0 1113.70,393.3 Z" fill="#fff" stroke="#231f20" stroke-width="1.4"/>
<text transform="translate(1103.50,409.40) scale(1,1.04)" x="0" y="0" font-size="19" text-anchor="middle" fill="#000" font-family='"Liberation Sans", Arial, Helvetica, sans-serif' >4</text>
<line x1="973.3" y1="393.3" x2="1168" y2="393.3" stroke="#231f20" stroke-width="1.7"/>
<path d="M1182.3,393.3 L1164.3,385.90000000000003 L1168.6,393.3 L1164.3,400.7 Z" fill="#231f20"/>
<circle cx="973.3" cy="393.3" r="6.7" fill="#fff" stroke="#231f20" stroke-width="1.5"/>
<text transform="translate(1164.00,153.00) scale(1,1.04)" x="0" y="0" font-size="20.9" text-anchor="middle" fill="#231f20" font-family='"Liberation Sans", Arial, Helvetica, sans-serif' style="font-kerning:none">PAM</text>
<rect x="1127" y="157.9" width="75.8" height="29.1" rx="8" ry="8" fill="#d6e7f9" stroke="#2e8df0" stroke-width="1.8"/>
<text x="1165.75" y="181.00" font-size="20.8" text-anchor="middle" fill="#231f20" font-family='"DejaVu Sans", "Liberation Sans", sans-serif' >NNNN</text>
<text x="1141.80" y="211.80" font-size="19" text-anchor="middle" fill="#231f20" font-family='"DejaVu Sans", "Liberation Sans", sans-serif' >1</text>
<text x="1157.90" y="211.80" font-size="19" text-anchor="middle" fill="#231f20" font-family='"DejaVu Sans", "Liberation Sans", sans-serif' >2</text>
<text x="1173.70" y="211.80" font-size="19" text-anchor="middle" fill="#231f20" font-family='"DejaVu Sans", "Liberation Sans", sans-serif' >3</text>
<text x="1189.40" y="211.80" font-size="19" text-anchor="middle" fill="#231f20" font-family='"DejaVu Sans", "Liberation Sans", sans-serif' >4</text>
<line x1="1134" y1="226.1" x2="1190" y2="226.1" stroke="#231f20" stroke-width="1.7"/>
<path d="M1202.8,226.1 L1185.3,219.1 L1189.6,226.1 L1185.3,233.1 Z" fill="#231f20"/>
<circle cx="1134" cy="226.1" r="6.05" fill="#fff" stroke="#231f20" stroke-width="1.5"/>
<rect x="1425.5" y="239.85" width="426.72" height="427.36" fill="#f5fafe"/>
<rect x="1638.86" y="239.85" width="26.67" height="26.71" fill="#559ccd"/>
<rect x="1665.53" y="239.85" width="26.67" height="26.71" fill="#4292c6"/>
<rect x="1692.20" y="239.85" width="26.67" height="26.71" fill="#3180bd"/>
<rect x="1718.87" y="239.85" width="26.67" height="26.71" fill="#559fce"/>
<rect x="1638.86" y="266.56" width="26.67" height="26.71" fill="#7db4d8"/>
<rect x="1665.53" y="266.56" width="26.67" height="26.71" fill="#579fcd"/>
<rect x="1692.20" y="266.56" width="26.67" height="26.71" fill="#a4cae1"/>
<rect x="1718.87" y="266.56" width="26.67" height="26.71" fill="#6aaad6"/>
<rect x="1638.86" y="293.27" width="26.67" height="26.71" fill="#3080bd"/>
<rect x="1665.53" y="293.27" width="26.67" height="26.71" fill="#3180bc"/>
<rect x="1692.20" y="293.27" width="26.67" height="26.71" fill="#3e8cc4"/>
<rect x="1718.87" y="293.27" width="26.67" height="26.71" fill="#3180bd"/>
<rect x="1638.86" y="319.98" width="26.67" height="26.71" fill="#a8cfe5"/>
<rect x="1665.53" y="319.98" width="26.67" height="26.71" fill="#83b7d9"/>
<rect x="1692.20" y="319.98" width="26.67" height="26.71" fill="#3a8ac3"/>
<rect x="1718.87" y="319.98" width="26.67" height="26.71" fill="#92c1df"/>
<rect x="1798.88" y="239.85" width="26.67" height="26.71" fill="#eaf1f9"/>
<rect x="1798.88" y="293.27" width="26.67" height="26.71" fill="#e8f0f9"/>
<rect x="1825.55" y="293.27" width="26.67" height="26.71" fill="#dfe9f6"/>
<rect x="1585.52" y="293.27" width="26.67" height="26.71" fill="#e9f0fa"/>
<rect x="1478.84" y="346.69" width="26.67" height="26.71" fill="#edf4fc"/>
<rect x="1692.20" y="346.69" width="26.67" height="26.71" fill="#4493c7"/>
<rect x="1692.20" y="373.40" width="26.67" height="26.71" fill="#dde9f6"/>
<rect x="1692.20" y="400.11" width="26.67" height="26.71" fill="#a1cae2"/>
<rect x="1692.20" y="426.82" width="26.67" height="26.71" fill="#58a1cf"/>
<rect x="1425.50" y="453.53" width="26.67" height="26.71" fill="#98c6df"/>
<rect x="1452.17" y="453.53" width="26.67" height="26.71" fill="#98c6df"/>
<rect x="1478.84" y="453.53" width="26.67" height="26.71" fill="#72afd7"/>
<rect x="1505.51" y="453.53" width="26.67" height="26.71" fill="#b3d2e8"/>
<rect x="1425.50" y="480.24" width="26.67" height="26.71" fill="#bdd7ec"/>
<rect x="1452.17" y="480.24" width="26.67" height="26.71" fill="#b4d2e7"/>
<rect x="1478.84" y="480.24" width="26.67" height="26.71" fill="#92c0df"/>
<rect x="1505.51" y="480.24" width="26.67" height="26.71" fill="#c2d7eb"/>
<rect x="1425.50" y="506.95" width="26.67" height="26.71" fill="#abcfe5"/>
<rect x="1452.17" y="506.95" width="26.67" height="26.71" fill="#a7cce3"/>
<rect x="1478.84" y="506.95" width="26.67" height="26.71" fill="#8cbcde"/>
<rect x="1505.51" y="506.95" width="26.67" height="26.71" fill="#a8cee5"/>
<rect x="1425.50" y="533.66" width="26.67" height="26.71" fill="#abcfe5"/>
<rect x="1452.17" y="533.66" width="26.67" height="26.71" fill="#98c6df"/>
<rect x="1478.84" y="533.66" width="26.67" height="26.71" fill="#82b8da"/>
<rect x="1505.51" y="533.66" width="26.67" height="26.71" fill="#a9cee4"/>
<rect x="1558.85" y="453.53" width="26.67" height="26.71" fill="#e3edf7"/>
<rect x="1585.52" y="453.53" width="26.67" height="26.71" fill="#d6e5f4"/>
<rect x="1612.19" y="453.53" width="26.67" height="26.71" fill="#ecf2fa"/>
<rect x="1558.85" y="480.24" width="26.67" height="26.71" fill="#dde8f6"/>
<rect x="1585.52" y="480.24" width="26.67" height="26.71" fill="#e9eff9"/>
<rect x="1612.19" y="480.24" width="26.67" height="26.71" fill="#dce8f6"/>
<rect x="1558.85" y="506.95" width="26.67" height="26.71" fill="#d7e6f5"/>
<rect x="1558.85" y="533.66" width="26.67" height="26.71" fill="#dce8f6"/>
<rect x="1585.52" y="533.66" width="26.67" height="26.71" fill="#e0e9f6"/>
<rect x="1638.86" y="453.53" width="26.67" height="26.71" fill="#213266"/>
<rect x="1665.53" y="453.53" width="26.67" height="26.71" fill="#213266"/>
<rect x="1692.20" y="453.53" width="26.67" height="26.71" fill="#213266"/>
<rect x="1718.87" y="453.53" width="26.67" height="26.71" fill="#213266"/>
<rect x="1638.86" y="480.24" width="26.67" height="26.71" fill="#213266"/>
<rect x="1665.53" y="480.24" width="26.67" height="26.71" fill="#213266"/>
<rect x="1692.20" y="480.24" width="26.67" height="26.71" fill="#213266"/>
<rect x="1718.87" y="480.24" width="26.67" height="26.71" fill="#213266"/>
<rect x="1638.86" y="506.95" width="26.67" height="26.71" fill="#213266"/>
<rect x="1665.53" y="506.95" width="26.67" height="26.71" fill="#213266"/>
<rect x="1692.20" y="506.95" width="26.67" height="26.71" fill="#213266"/>
<rect x="1718.87" y="506.95" width="26.67" height="26.71" fill="#213266"/>
<rect x="1638.86" y="533.66" width="26.67" height="26.71" fill="#213266"/>
<rect x="1665.53" y="533.66" width="26.67" height="26.71" fill="#213266"/>
<rect x="1692.20" y="533.66" width="26.67" height="26.71" fill="#213266"/>
<rect x="1718.87" y="533.66" width="26.67" height="26.71" fill="#213266"/>
<rect x="1745.54" y="506.95" width="26.67" height="26.71" fill="#e1ebf7"/>
<rect x="1772.21" y="533.66" width="26.67" height="26.71" fill="#e1ecf8"/>
<rect x="1692.20" y="560.37" width="26.67" height="26.71" fill="#4b98ca"/>
<rect x="1692.20" y="587.08" width="26.67" height="26.71" fill="#e9f0fa"/>
<rect x="1692.20" y="613.79" width="26.67" height="26.71" fill="#73b0d8"/>
<rect x="1692.20" y="640.50" width="26.67" height="26.71" fill="#64a8d3"/>
<rect x="1665.53" y="613.79" width="26.67" height="26.71" fill="#d5e5f3"/>
<rect x="1718.87" y="613.79" width="26.67" height="26.71" fill="#c9deef"/>
<line x1="1452.17" y1="239.85" x2="1452.17" y2="667.21" stroke="#fff" stroke-opacity="0.6" stroke-width="0.7"/>
<line x1="1425.5" y1="266.56" x2="1852.22" y2="266.56" stroke="#fff" stroke-opacity="0.6" stroke-width="0.7"/>
<line x1="1478.84" y1="239.85" x2="1478.84" y2="667.21" stroke="#fff" stroke-opacity="0.6" stroke-width="0.7"/>
<line x1="1425.5" y1="293.27" x2="1852.22" y2="293.27" stroke="#fff" stroke-opacity="0.6" stroke-width="0.7"/>
<line x1="1505.51" y1="239.85" x2="1505.51" y2="667.21" stroke="#fff" stroke-opacity="0.6" stroke-width="0.7"/>
<line x1="1425.5" y1="319.98" x2="1852.22" y2="319.98" stroke="#fff" stroke-opacity="0.6" stroke-width="0.7"/>
<line x1="1532.18" y1="239.85" x2="1532.18" y2="667.21" stroke="#fff" stroke-opacity="0.6" stroke-width="0.7"/>
<line x1="1425.5" y1="346.69" x2="1852.22" y2="346.69" stroke="#fff" stroke-opacity="0.6" stroke-width="0.7"/>
<line x1="1558.85" y1="239.85" x2="1558.85" y2="667.21" stroke="#fff" stroke-opacity="0.6" stroke-width="0.7"/>
<line x1="1425.5" y1="373.40" x2="1852.22" y2="373.40" stroke="#fff" stroke-opacity="0.6" stroke-width="0.7"/>
<line x1="1585.52" y1="239.85" x2="1585.52" y2="667.21" stroke="#fff" stroke-opacity="0.6" stroke-width="0.7"/>
<line x1="1425.5" y1="400.11" x2="1852.22" y2="400.11" stroke="#fff" stroke-opacity="0.6" stroke-width="0.7"/>
<line x1="1612.19" y1="239.85" x2="1612.19" y2="667.21" stroke="#fff" stroke-opacity="0.6" stroke-width="0.7"/>
<line x1="1425.5" y1="426.82" x2="1852.22" y2="426.82" stroke="#fff" stroke-opacity="0.6" stroke-width="0.7"/>
<line x1="1638.86" y1="239.85" x2="1638.86" y2="667.21" stroke="#fff" stroke-opacity="0.6" stroke-width="0.7"/>
<line x1="1425.5" y1="453.53" x2="1852.22" y2="453.53" stroke="#fff" stroke-opacity="0.6" stroke-width="0.7"/>
<line x1="1665.53" y1="239.85" x2="1665.53" y2="667.21" stroke="#fff" stroke-opacity="0.6" stroke-width="0.7"/>
<line x1="1425.5" y1="480.24" x2="1852.22" y2="480.24" stroke="#fff" stroke-opacity="0.6" stroke-width="0.7"/>
<line x1="1692.20" y1="239.85" x2="1692.20" y2="667.21" stroke="#fff" stroke-opacity="0.6" stroke-width="0.7"/>
<line x1="1425.5" y1="506.95" x2="1852.22" y2="506.95" stroke="#fff" stroke-opacity="0.6" stroke-width="0.7"/>
<line x1="1718.87" y1="239.85" x2="1718.87" y2="667.21" stroke="#fff" stroke-opacity="0.6" stroke-width="0.7"/>
<line x1="1425.5" y1="533.66" x2="1852.22" y2="533.66" stroke="#fff" stroke-opacity="0.6" stroke-width="0.7"/>
<line x1="1745.54" y1="239.85" x2="1745.54" y2="667.21" stroke="#fff" stroke-opacity="0.6" stroke-width="0.7"/>
<line x1="1425.5" y1="560.37" x2="1852.22" y2="560.37" stroke="#fff" stroke-opacity="0.6" stroke-width="0.7"/>
<line x1="1772.21" y1="239.85" x2="1772.21" y2="667.21" stroke="#fff" stroke-opacity="0.6" stroke-width="0.7"/>
<line x1="1425.5" y1="587.08" x2="1852.22" y2="587.08" stroke="#fff" stroke-opacity="0.6" stroke-width="0.7"/>
<line x1="1798.88" y1="239.85" x2="1798.88" y2="667.21" stroke="#fff" stroke-opacity="0.6" stroke-width="0.7"/>
<line x1="1425.5" y1="613.79" x2="1852.22" y2="613.79" stroke="#fff" stroke-opacity="0.6" stroke-width="0.7"/>
<line x1="1825.55" y1="239.85" x2="1825.55" y2="667.21" stroke="#fff" stroke-opacity="0.6" stroke-width="0.7"/>
<line x1="1425.5" y1="640.50" x2="1852.22" y2="640.50" stroke="#fff" stroke-opacity="0.6" stroke-width="0.7"/>
<rect x="1425.50" y="192.1" width="26.97" height="24.30" fill="#f7afae"/>
<rect x="1425.50" y="216.1" width="26.97" height="23.75" fill="#f7afae"/>
<text x="1439.43" y="210.60" font-size="19" text-anchor="middle" fill="#000" font-family='"DejaVu Sans", "Liberation Sans", sans-serif' >A</text>
<text x="1439.43" y="234.80" font-size="19" text-anchor="middle" fill="#000" font-family='"DejaVu Sans", "Liberation Sans", sans-serif' >A</text>
<rect x="1452.17" y="192.1" width="26.97" height="24.30" fill="#36c5f4"/>
<rect x="1452.17" y="216.1" width="26.97" height="23.75" fill="#f7afae"/>
<text x="1466.11" y="210.60" font-size="19" text-anchor="middle" fill="#000" font-family='"DejaVu Sans", "Liberation Sans", sans-serif' >C</text>
<text x="1466.11" y="234.80" font-size="19" text-anchor="middle" fill="#000" font-family='"DejaVu Sans", "Liberation Sans", sans-serif' >A</text>
<rect x="1478.84" y="192.1" width="26.97" height="24.30" fill="#f6f0a2"/>
<rect x="1478.84" y="216.1" width="26.97" height="23.75" fill="#f7afae"/>
<text x="1492.77" y="210.60" font-size="19" text-anchor="middle" fill="#000" font-family='"DejaVu Sans", "Liberation Sans", sans-serif' >G</text>
<text x="1492.77" y="234.80" font-size="19" text-anchor="middle" fill="#000" font-family='"DejaVu Sans", "Liberation Sans", sans-serif' >A</text>
<rect x="1505.51" y="192.1" width="26.97" height="24.30" fill="#6cbf73"/>
<rect x="1505.51" y="216.1" width="26.97" height="23.75" fill="#f7afae"/>
<text x="1519.44" y="210.60" font-size="19" text-anchor="middle" fill="#000" font-family='"DejaVu Sans", "Liberation Sans", sans-serif' >T</text>
<text x="1519.44" y="234.80" font-size="19" text-anchor="middle" fill="#000" font-family='"DejaVu Sans", "Liberation Sans", sans-serif' >A</text>
<rect x="1532.18" y="192.1" width="26.97" height="24.30" fill="#f7afae"/>
<rect x="1532.18" y="216.1" width="26.97" height="23.75" fill="#36c5f4"/>
<text x="1546.12" y="210.60" font-size="19" text-anchor="middle" fill="#000" font-family='"DejaVu Sans", "Liberation Sans", sans-serif' >A</text>
<text x="1546.12" y="234.80" font-size="19" text-anchor="middle" fill="#000" font-family='"DejaVu Sans", "Liberation Sans", sans-serif' >C</text>
<rect x="1558.85" y="192.1" width="26.97" height="24.30" fill="#36c5f4"/>
<rect x="1558.85" y="216.1" width="26.97" height="23.75" fill="#36c5f4"/>
<text x="1572.78" y="210.60" font-size="19" text-anchor="middle" fill="#000" font-family='"DejaVu Sans", "Liberation Sans", sans-serif' >C</text>
<text x="1572.78" y="234.80" font-size="19" text-anchor="middle" fill="#000" font-family='"DejaVu Sans", "Liberation Sans", sans-serif' >C</text>
<rect x="1585.52" y="192.1" width="26.97" height="24.30" fill="#f6f0a2"/>
<rect x="1585.52" y="216.1" width="26.97" height="23.75" fill="#36c5f4"/>
<text x="1599.45" y="210.60" font-size="19" text-anchor="middle" fill="#000" font-family='"DejaVu Sans", "Liberation Sans", sans-serif' >G</text>
<text x="1599.45" y="234.80" font-size="19" text-anchor="middle" fill="#000" font-family='"DejaVu Sans", "Liberation Sans", sans-serif' >C</text>
<rect x="1612.19" y="192.1" width="26.97" height="24.30" fill="#6cbf73"/>
<rect x="1612.19" y="216.1" width="26.97" height="23.75" fill="#36c5f4"/>
<text x="1626.12" y="210.60" font-size="19" text-anchor="middle" fill="#000" font-family='"DejaVu Sans", "Liberation Sans", sans-serif' >T</text>
<text x="1626.12" y="234.80" font-size="19" text-anchor="middle" fill="#000" font-family='"DejaVu Sans", "Liberation Sans", sans-serif' >C</text>
<rect x="1638.86" y="192.1" width="26.97" height="24.30" fill="#f7afae"/>
<rect x="1638.86" y="216.1" width="26.97" height="23.75" fill="#f6f0a2"/>
<text x="1652.80" y="210.60" font-size="19" text-anchor="middle" fill="#000" font-family='"DejaVu Sans", "Liberation Sans", sans-serif' >A</text>
<text x="1652.80" y="234.80" font-size="19" text-anchor="middle" fill="#000" font-family='"DejaVu Sans", "Liberation Sans", sans-serif' >G</text>
<rect x="1665.53" y="192.1" width="26.97" height="24.30" fill="#36c5f4"/>
<rect x="1665.53" y="216.1" width="26.97" height="23.75" fill="#f6f0a2"/>
<text x="1679.46" y="210.60" font-size="19" text-anchor="middle" fill="#000" font-family='"DejaVu Sans", "Liberation Sans", sans-serif' >C</text>
<text x="1679.46" y="234.80" font-size="19" text-anchor="middle" fill="#000" font-family='"DejaVu Sans", "Liberation Sans", sans-serif' >G</text>
<rect x="1692.20" y="192.1" width="26.97" height="24.30" fill="#f6f0a2"/>
<rect x="1692.20" y="216.1" width="26.97" height="23.75" fill="#f6f0a2"/>
<text x="1706.13" y="210.60" font-size="19" text-anchor="middle" fill="#000" font-family='"DejaVu Sans", "Liberation Sans", sans-serif' >G</text>
<text x="1706.13" y="234.80" font-size="19" text-anchor="middle" fill="#000" font-family='"DejaVu Sans", "Liberation Sans", sans-serif' >G</text>
<rect x="1718.87" y="192.1" width="26.97" height="24.30" fill="#6cbf73"/>
<rect x="1718.87" y="216.1" width="26.97" height="23.75" fill="#f6f0a2"/>
<text x="1732.80" y="210.60" font-size="19" text-anchor="middle" fill="#000" font-family='"DejaVu Sans", "Liberation Sans", sans-serif' >T</text>
<text x="1732.80" y="234.80" font-size="19" text-anchor="middle" fill="#000" font-family='"DejaVu Sans", "Liberation Sans", sans-serif' >G</text>
<rect x="1745.54" y="192.1" width="26.97" height="24.30" fill="#f7afae"/>
<rect x="1745.54" y="216.1" width="26.97" height="23.75" fill="#6cbf73"/>
<text x="1759.47" y="210.60" font-size="19" text-anchor="middle" fill="#000" font-family='"DejaVu Sans", "Liberation Sans", sans-serif' >A</text>
<text x="1759.47" y="234.80" font-size="19" text-anchor="middle" fill="#000" font-family='"DejaVu Sans", "Liberation Sans", sans-serif' >T</text>
<rect x="1772.21" y="192.1" width="26.97" height="24.30" fill="#36c5f4"/>
<rect x="1772.21" y="216.1" width="26.97" height="23.75" fill="#6cbf73"/>
<text x="1786.14" y="210.60" font-size="19" text-anchor="middle" fill="#000" font-family='"DejaVu Sans", "Liberation Sans", sans-serif' >C</text>
<text x="1786.14" y="234.80" font-size="19" text-anchor="middle" fill="#000" font-family='"DejaVu Sans", "Liberation Sans", sans-serif' >T</text>
<rect x="1798.88" y="192.1" width="26.97" height="24.30" fill="#f6f0a2"/>
<rect x="1798.88" y="216.1" width="26.97" height="23.75" fill="#6cbf73"/>
<text x="1812.82" y="210.60" font-size="19" text-anchor="middle" fill="#000" font-family='"DejaVu Sans", "Liberation Sans", sans-serif' >G</text>
<text x="1812.82" y="234.80" font-size="19" text-anchor="middle" fill="#000" font-family='"DejaVu Sans", "Liberation Sans", sans-serif' >T</text>
<rect x="1825.55" y="192.1" width="26.97" height="24.30" fill="#6cbf73"/>
<rect x="1825.55" y="216.1" width="26.97" height="23.75" fill="#6cbf73"/>
<text x="1839.48" y="210.60" font-size="19" text-anchor="middle" fill="#000" font-family='"DejaVu Sans", "Liberation Sans", sans-serif' >T</text>
<text x="1839.48" y="234.80" font-size="19" text-anchor="middle" fill="#000" font-family='"DejaVu Sans", "Liberation Sans", sans-serif' >T</text>
<rect x="1375.0" y="239.85" width="25.50" height="27.01" fill="#f7afae"/>
<rect x="1400.2" y="239.85" width="25.30" height="26.97" fill="#f7afae"/>
<text x="1388.00" y="260.50" font-size="19" text-anchor="middle" fill="#000" font-family='"DejaVu Sans", "Liberation Sans", sans-serif' >A</text>
<text x="1413.15" y="260.50" font-size="19" text-anchor="middle" fill="#000" font-family='"DejaVu Sans", "Liberation Sans", sans-serif' >A</text>
<rect x="1375.0" y="266.56" width="25.50" height="27.01" fill="#36c5f4"/>
<rect x="1400.2" y="266.56" width="25.30" height="26.97" fill="#f7afae"/>
<text x="1388.00" y="287.22" font-size="19" text-anchor="middle" fill="#000" font-family='"DejaVu Sans", "Liberation Sans", sans-serif' >C</text>
<text x="1413.15" y="287.22" font-size="19" text-anchor="middle" fill="#000" font-family='"DejaVu Sans", "Liberation Sans", sans-serif' >A</text>
<rect x="1375.0" y="293.27" width="25.50" height="27.01" fill="#f6f0a2"/>
<rect x="1400.2" y="293.27" width="25.30" height="26.97" fill="#f7afae"/>
<text x="1388.00" y="313.93" font-size="19" text-anchor="middle" fill="#000" font-family='"DejaVu Sans", "Liberation Sans", sans-serif' >G</text>
<text x="1413.15" y="313.93" font-size="19" text-anchor="middle" fill="#000" font-family='"DejaVu Sans", "Liberation Sans", sans-serif' >A</text>
<rect x="1375.0" y="319.98" width="25.50" height="27.01" fill="#6cbf73"/>
<rect x="1400.2" y="319.98" width="25.30" height="26.97" fill="#f7afae"/>
<text x="1388.00" y="340.64" font-size="19" text-anchor="middle" fill="#000" font-family='"DejaVu Sans", "Liberation Sans", sans-serif' >T</text>
<text x="1413.15" y="340.64" font-size="19" text-anchor="middle" fill="#000" font-family='"DejaVu Sans", "Liberation Sans", sans-serif' >A</text>
<rect x="1375.0" y="346.69" width="25.50" height="27.01" fill="#f7afae"/>
<rect x="1400.2" y="346.69" width="25.30" height="26.97" fill="#36c5f4"/>
<text x="1388.00" y="367.35" font-size="19" text-anchor="middle" fill="#000" font-family='"DejaVu Sans", "Liberation Sans", sans-serif' >A</text>
<text x="1413.15" y="367.35" font-size="19" text-anchor="middle" fill="#000" font-family='"DejaVu Sans", "Liberation Sans", sans-serif' >C</text>
<rect x="1375.0" y="373.40" width="25.50" height="27.01" fill="#36c5f4"/>
<rect x="1400.2" y="373.40" width="25.30" height="26.97" fill="#36c5f4"/>
<text x="1388.00" y="394.06" font-size="19" text-anchor="middle" fill="#000" font-family='"DejaVu Sans", "Liberation Sans", sans-serif' >C</text>
<text x="1413.15" y="394.06" font-size="19" text-anchor="middle" fill="#000" font-family='"DejaVu Sans", "Liberation Sans", sans-serif' >C</text>
<rect x="1375.0" y="400.11" width="25.50" height="27.01" fill="#f6f0a2"/>
<rect x="1400.2" y="400.11" width="25.30" height="26.97" fill="#36c5f4"/>
<text x="1388.00" y="420.77" font-size="19" text-anchor="middle" fill="#000" font-family='"DejaVu Sans", "Liberation Sans", sans-serif' >G</text>
<text x="1413.15" y="420.77" font-size="19" text-anchor="middle" fill="#000" font-family='"DejaVu Sans", "Liberation Sans", sans-serif' >C</text>
<rect x="1375.0" y="426.82" width="25.50" height="27.01" fill="#6cbf73"/>
<rect x="1400.2" y="426.82" width="25.30" height="26.97" fill="#36c5f4"/>
<text x="1388.00" y="447.48" font-size="19" text-anchor="middle" fill="#000" font-family='"DejaVu Sans", "Liberation Sans", sans-serif' >T</text>
<text x="1413.15" y="447.48" font-size="19" text-anchor="middle" fill="#000" font-family='"DejaVu Sans", "Liberation Sans", sans-serif' >C</text>
<rect x="1375.0" y="453.53" width="25.50" height="27.01" fill="#f7afae"/>
<rect x="1400.2" y="453.53" width="25.30" height="26.97" fill="#f6f0a2"/>
<text x="1388.00" y="474.19" font-size="19" text-anchor="middle" fill="#000" font-family='"DejaVu Sans", "Liberation Sans", sans-serif' >A</text>
<text x="1413.15" y="474.19" font-size="19" text-anchor="middle" fill="#000" font-family='"DejaVu Sans", "Liberation Sans", sans-serif' >G</text>
<rect x="1375.0" y="480.24" width="25.50" height="27.01" fill="#36c5f4"/>
<rect x="1400.2" y="480.24" width="25.30" height="26.97" fill="#f6f0a2"/>
<text x="1388.00" y="500.90" font-size="19" text-anchor="middle" fill="#000" font-family='"DejaVu Sans", "Liberation Sans", sans-serif' >C</text>
<text x="1413.15" y="500.90" font-size="19" text-anchor="middle" fill="#000" font-family='"DejaVu Sans", "Liberation Sans", sans-serif' >G</text>
<rect x="1375.0" y="506.95" width="25.50" height="27.01" fill="#f6f0a2"/>
<rect x="1400.2" y="506.95" width="25.30" height="26.97" fill="#f6f0a2"/>
<text x="1388.00" y="527.61" font-size="19" text-anchor="middle" fill="#000" font-family='"DejaVu Sans", "Liberation Sans", sans-serif' >G</text>
<text x="1413.15" y="527.61" font-size="19" text-anchor="middle" fill="#000" font-family='"DejaVu Sans", "Liberation Sans", sans-serif' >G</text>
<rect x="1375.0" y="533.66" width="25.50" height="27.01" fill="#6cbf73"/>
<rect x="1400.2" y="533.66" width="25.30" height="26.97" fill="#f6f0a2"/>
<text x="1388.00" y="554.31" font-size="19" text-anchor="middle" fill="#000" font-family='"DejaVu Sans", "Liberation Sans", sans-serif' >T</text>
<text x="1413.15" y="554.31" font-size="19" text-anchor="middle" fill="#000" font-family='"DejaVu Sans", "Liberation Sans", sans-serif' >G</text>
<rect x="1375.0" y="560.37" width="25.50" height="27.01" fill="#f7afae"/>
<rect x="1400.2" y="560.37" width="25.30" height="26.97" fill="#6cbf73"/>
<text x="1388.00" y="581.02" font-size="19" text-anchor="middle" fill="#000" font-family='"DejaVu Sans", "Liberation Sans", sans-serif' >A</text>
<text x="1413.15" y="581.02" font-size="19" text-anchor="middle" fill="#000" font-family='"DejaVu Sans", "Liberation Sans", sans-serif' >T</text>
<rect x="1375.0" y="587.08" width="25.50" height="27.01" fill="#36c5f4"/>
<rect x="1400.2" y="587.08" width="25.30" height="26.97" fill="#6cbf73"/>
<text x="1388.00" y="607.74" font-size="19" text-anchor="middle" fill="#000" font-family='"DejaVu Sans", "Liberation Sans", sans-serif' >C</text>
<text x="1413.15" y="607.74" font-size="19" text-anchor="middle" fill="#000" font-family='"DejaVu Sans", "Liberation Sans", sans-serif' >T</text>
<rect x="1375.0" y="613.79" width="25.50" height="27.01" fill="#f6f0a2"/>
<rect x="1400.2" y="613.79" width="25.30" height="26.97" fill="#6cbf73"/>
<text x="1388.00" y="634.44" font-size="19" text-anchor="middle" fill="#000" font-family='"DejaVu Sans", "Liberation Sans", sans-serif' >G</text>
<text x="1413.15" y="634.44" font-size="19" text-anchor="middle" fill="#000" font-family='"DejaVu Sans", "Liberation Sans", sans-serif' >T</text>
<rect x="1375.0" y="640.50" width="25.50" height="27.01" fill="#6cbf73"/>
<rect x="1400.2" y="640.50" width="25.30" height="26.97" fill="#6cbf73"/>
<text x="1388.00" y="661.15" font-size="19" text-anchor="middle" fill="#000" font-family='"DejaVu Sans", "Liberation Sans", sans-serif' >T</text>
<text x="1413.15" y="661.15" font-size="19" text-anchor="middle" fill="#000" font-family='"DejaVu Sans", "Liberation Sans", sans-serif' >T</text>
<line x1="1425.50" y1="192.1" x2="1425.50" y2="668.71" stroke="#808285" stroke-width="3"/>
<line x1="1375.0" y1="239.85" x2="1853.72" y2="239.85" stroke="#808285" stroke-width="3"/>
<line x1="1532.18" y1="192.1" x2="1532.18" y2="668.71" stroke="#808285" stroke-width="3"/>
<line x1="1375.0" y1="346.69" x2="1853.72" y2="346.69" stroke="#808285" stroke-width="3"/>
<line x1="1638.86" y1="192.1" x2="1638.86" y2="668.71" stroke="#808285" stroke-width="3"/>
<line x1="1375.0" y1="453.53" x2="1853.72" y2="453.53" stroke="#808285" stroke-width="3"/>
<line x1="1745.54" y1="192.1" x2="1745.54" y2="668.71" stroke="#808285" stroke-width="3"/>
<line x1="1375.0" y1="560.37" x2="1853.72" y2="560.37" stroke="#808285" stroke-width="3"/>
<line x1="1852.22" y1="192.1" x2="1852.22" y2="668.71" stroke="#808285" stroke-width="3"/>
<line x1="1375.0" y1="667.21" x2="1853.72" y2="667.21" stroke="#808285" stroke-width="3"/>
<text transform="translate(1370.40,96.70) scale(1,1.04)" x="0" y="0" font-size="27.5" text-anchor="middle" fill="#231f20" font-family='"Liberation Sans", Arial, Helvetica, sans-serif' style="font-kerning:none">PAM</text>
<text x="1341.00" y="124.70" font-size="26.3" text-anchor="middle" fill="#231f20" font-family='"DejaVu Sans", "Liberation Sans", sans-serif' >1</text>
<text x="1361.90" y="124.70" font-size="26.3" text-anchor="middle" fill="#231f20" font-family='"DejaVu Sans", "Liberation Sans", sans-serif' >2</text>
<text x="1383.20" y="124.70" font-size="26.3" text-anchor="middle" fill="#231f20" font-family='"DejaVu Sans", "Liberation Sans", sans-serif' >3</text>
<text x="1403.80" y="124.70" font-size="26.3" text-anchor="middle" fill="#231f20" font-family='"DejaVu Sans", "Liberation Sans", sans-serif' >4</text>
<rect x="1321.5" y="133.4" width="99.5" height="38.5" rx="8.5" ry="8.5" fill="#d6e7f9" stroke="#2e8df0" stroke-width="2"/>
<text x="1372.60" y="162.80" font-size="27.7" text-anchor="middle" fill="#231f20" font-family='"DejaVu Sans", "Liberation Sans", sans-serif' >NNNN</text>
<defs><marker id="ah" viewBox="-13 -6 14 12" refX="-1" refY="0" markerWidth="14" markerHeight="12" markerUnits="userSpaceOnUse" orient="auto"><path d="M0,0 L-12.8,-4.9 L-9,0 L-12.8,4.9 Z" fill="#231f20"/></marker></defs>
<path d="M1343.3,178.2 C1344,205 1362,222.5 1384.0,234.5" fill="none" stroke="#231f20" stroke-width="2" marker-end="url(#ah)"/>
<path d="M1364.1,178.2 C1365,205 1385,222.5 1408.3,234.5" fill="none" stroke="#231f20" stroke-width="2" marker-end="url(#ah)"/>
<path d="M1385.4,178.2 C1386,196 1398,213.5 1420.0,223.3" fill="none" stroke="#231f20" stroke-width="2" marker-end="url(#ah)"/>
<path d="M1403.6,178.2 C1403,190 1406,197 1418.5,200.5" fill="none" stroke="#231f20" stroke-width="2" marker-end="url(#ah)"/>
<defs><linearGradient id="cb" x1="0" y1="1" x2="0" y2="0"><stop offset="0" stop-color="#f7fbff"/><stop offset="0.125" stop-color="#deebf7"/><stop offset="0.25" stop-color="#c6dbef"/><stop offset="0.375" stop-color="#9ecae1"/><stop offset="0.5" stop-color="#6baed6"/><stop offset="0.625" stop-color="#4292c6"/><stop offset="0.75" stop-color="#2171b5"/><stop offset="0.875" stop-color="#0f519c"/><stop offset="1" stop-color="#22356c"/></linearGradient></defs>
<rect x="1888.8" y="327.6" width="16.5" height="251.8" fill="url(#cb)" stroke="#231f20" stroke-width="1.1"/>
<text transform="translate(1865.10,269.00) scale(1,1.04)" x="0" y="0" font-size="27.25" text-anchor="start" fill="#231f20" font-family='"Liberation Sans", Arial, Helvetica, sans-serif' style="font-kerning:none">HT-PAMDA</text>
<text x="1891.6" y="301.7" font-size="27.4" fill="#231f20" font-family='"Liberation Sans", Arial, Helvetica, sans-serif'>log<tspan font-size="16.3" dy="10">10</tspan><tspan dy="-10">(</tspan><tspan font-style="italic">k</tspan>)</text>
<text transform="translate(1913.70,368.20) scale(1,1.04)" x="0" y="0" font-size="27.7" text-anchor="start" fill="#231f20" font-family='"Liberation Sans", Arial, Helvetica, sans-serif' >-2.0</text>
<text transform="translate(1913.70,438.70) scale(1,1.04)" x="0" y="0" font-size="27.7" text-anchor="start" fill="#231f20" font-family='"Liberation Sans", Arial, Helvetica, sans-serif' >-3.0</text>
<text transform="translate(1913.70,509.30) scale(1,1.04)" x="0" y="0" font-size="27.7" text-anchor="start" fill="#231f20" font-family='"Liberation Sans", Arial, Helvetica, sans-serif' >-4.0</text>
<text transform="translate(1913.70,579.90) scale(1,1.04)" x="0" y="0" font-size="27.7" text-anchor="start" fill="#231f20" font-family='"Liberation Sans", Arial, Helvetica, sans-serif' >-5.0</text>
</svg></body></html>
